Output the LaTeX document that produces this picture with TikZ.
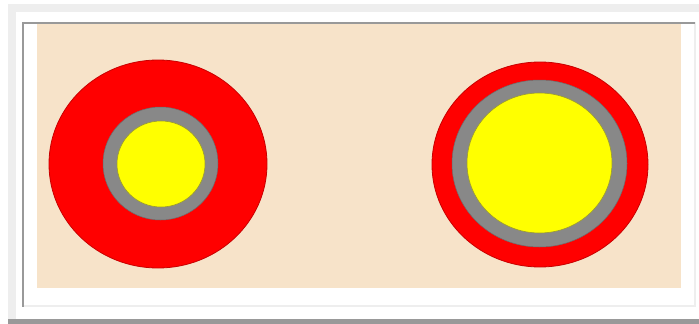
\documentclass[tikz,border=0pt]{standalone}
\definecolor{lightgr}{HTML}{EEEEEE}
\definecolor{darkgr}{HTML}{999999}
\definecolor{beige}{HTML}{F7E3C9}
\definecolor{ringgray}{HTML}{888888}
\definecolor{ringred}{HTML}{FF0000}
\definecolor{edgered}{HTML}{C80000}
\definecolor{coreyellow}{HTML}{FFFF00}
\definecolor{edgeyellow}{HTML}{9A9A30}
\tikzset{
  redring/.style={fill=ringred, draw=edgered, line width=0.8pt},
  grayring/.style={fill=ringgray, draw=ringgray!80!black, line width=0.5pt},
  yellowcore/.style={fill=coreyellow, draw=edgeyellow, line width=0.6pt},
}
\begin{document}
\begin{tikzpicture}[x=1pt,y=-1pt]
\useasboundingbox (0,0) rectangle (699,324);
\fill[white] (0,0) rectangle (699,324);
% outer light gray L
\fill[lightgr] (8,4) rectangle (699,12);
\fill[lightgr] (8,4) rectangle (16,319);
% bottom dark bar
\fill[darkgr] (8,319) rectangle (699,324);
% inset frame
\fill[lightgr] (694,22) rectangle (696,307);
\fill[lightgr] (22,305) rectangle (696,307);
\fill[darkgr] (22,22) rectangle (695,24);
\fill[darkgr] (22,22) rectangle (24,307);
% beige panel
\fill[beige] (37,24) rectangle (681,288);
% left target
\path[redring] (158,164) ellipse [x radius=109, y radius=104];
\path[grayring] (160.5,163.5) ellipse [x radius=57.5, y radius=56.5];
\path[yellowcore] (161,164) ellipse [x radius=44, y radius=43];
% right target
\path[redring] (540,164.5) ellipse [x radius=108, y radius=102.5];
\path[grayring] (539.5,163.5) ellipse [x radius=87.5, y radius=83.5];
\path[yellowcore] (539.5,163) ellipse [x radius=72.5, y radius=70];
\end{tikzpicture}
\end{document}
